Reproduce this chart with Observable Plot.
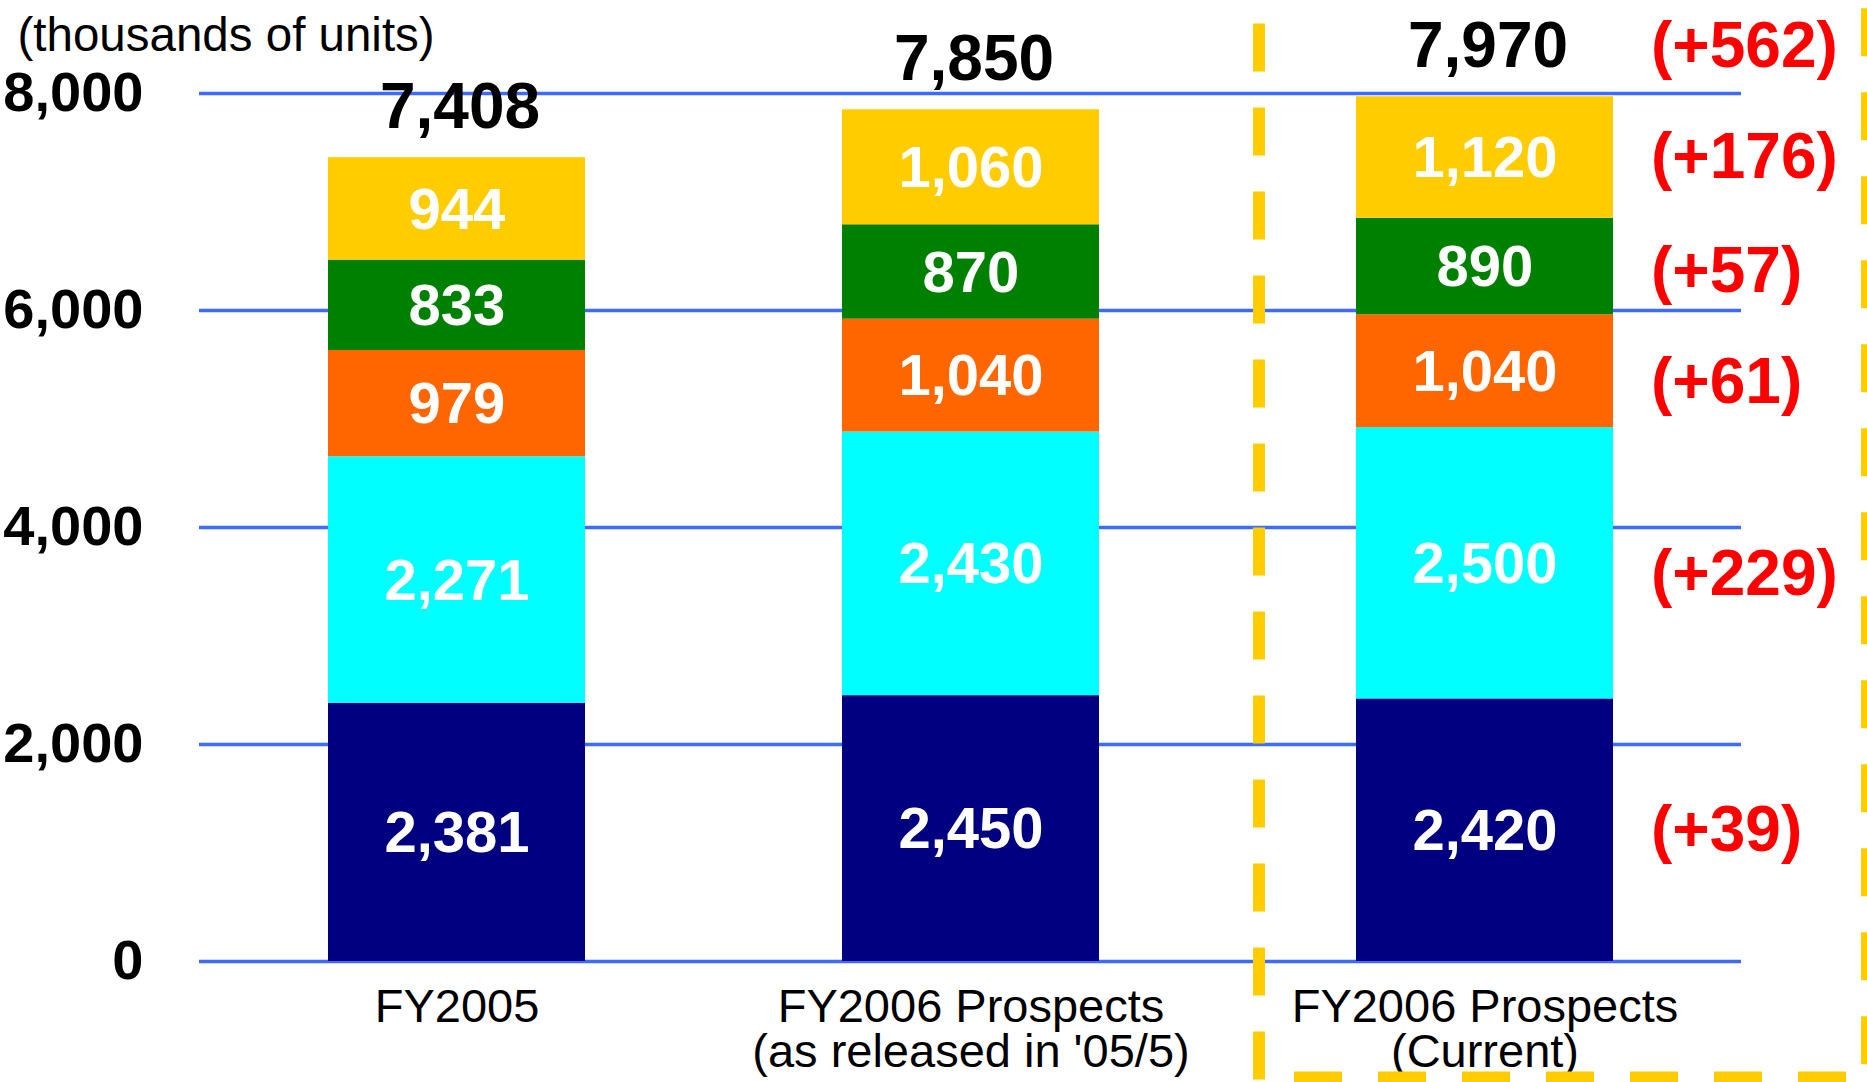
<!DOCTYPE html>
<html>
<head>
<meta charset="utf-8">
<script src="https://cdn.jsdelivr.net/npm/d3@7"></script>
<script src="https://cdn.jsdelivr.net/npm/@observablehq/plot@0.6"></script>
<style>
  html, body { margin: 0; padding: 0; background: #ffffff; }
  #chart svg { display: block; }
</style>
</head>
<body>
<div id="chart"></div>
<script>
// ---- data ----
const categories = ["FY2005", "FY2006 Prospects\n(as released in '05/5)", "FY2006 Prospects\n(Current)"];
const seriesNames = ["Series 1", "Series 2", "Series 3", "Series 4", "Series 5"]; // bottom → top
const seriesColors = ["#000080", "#00ffff", "#ff6600", "#008000", "#ffcc00"];
const fy2005 = [2381, 2271, 979, 833, 944];
const fy2006Initial = [2450, 2430, 1040, 870, 1060];
const fy2006Current = [2420, 2500, 1040, 890, 1120];
const totals = [7408, 7850, 7970];
const changes = [39, 229, 61, 57, 176];   // current vs FY2005, per series
const totalChange = 562;
const yTicks = [0, 2000, 4000, 6000, 8000];
const unitLabel = "(thousands of units)";

// label placement tweaks (style only, pixels)
const changeLabelNudge = [0, 11, 11, 5, 0];

// ---- tables built from the arrays ----
const valuesByCat = [fy2005, fy2006Initial, fy2006Current];
const rows = [];
categories.forEach((cat, ci) => {
  let acc = 0;
  valuesByCat[ci].forEach((v, si) => {
    rows.push({cat, si, series: seriesNames[si], value: v, y1: acc, y2: acc + v, change: ci === 2 ? changes[si] : null});
    acc += v;
  });
});
const totalRows = categories.map((cat, i) => ({cat, total: totals[i]}));
const currentRows = rows.filter(d => d.cat === categories[2]);
const fmt = d3.format(",");
const font = "'Liberation Sans', Arial, Helvetica, sans-serif";
const gold = "#ffcc00";

const chart = Plot.plot({
  width: 1867,
  height: 1082,
  marginLeft: 199,
  marginRight: 126,
  marginTop: 93,
  marginBottom: 121,
  style: {fontFamily: font, background: "#ffffff", overflow: "visible"},
  x: {domain: categories, paddingInner: 0.5, paddingOuter: 0.25, axis: null},
  y: {domain: [0, 8000], axis: null},
  color: {domain: seriesNames, range: seriesColors},
  marks: [
    // gridlines
    Plot.ruleY(yTicks, {stroke: "#3d6aff", strokeWidth: 3.5}),
    // y tick labels
    Plot.text(yTicks, {y: d => d, frameAnchor: "left", textAnchor: "end", dx: -56,
      text: d => fmt(d), fontSize: 56, fontWeight: "bold", fill: "#000"}),
    // stacked bars
    Plot.barY(rows, {x: "cat", y1: "y1", y2: "y2", fill: "series"}),
    // segment values
    Plot.text(rows, {x: "cat", y: d => (d.y1 + d.y2) / 2, text: d => fmt(d.value),
      dy: 1, fill: "#ffffff", fontSize: 58, fontWeight: "bold"}),
    // totals
    Plot.text(totalRows, {x: "cat", y: "total", text: d => fmt(d.total), lineAnchor: "bottom",
      dy: -30, dx: 3, fill: "#000", fontSize: 64, fontWeight: "bold"}),
    // change labels for the current prospects (one text mark per series to allow a nudge)
    ...currentRows.map(r => Plot.text([r], {x: "cat", y: d => (d.y1 + d.y2) / 2, text: d => `(+${d.change})`,
      textAnchor: "start", dx: 166, dy: changeLabelNudge[r.si], fill: "#ff0000", fontSize: 64, fontWeight: "bold"})),
    Plot.text([totalRows[2]], {x: "cat", y: "total", text: () => `(+${totalChange})`,
      textAnchor: "start", lineAnchor: "bottom", dx: 166, dy: -30, fill: "#ff0000", fontSize: 64, fontWeight: "bold"}),
    // category labels
    Plot.text(categories, {x: d => d, frameAnchor: "bottom", lineAnchor: "top", dy: 28,
      text: d => d, fontSize: 47, lineHeight: 0.96, fill: "#000"}),
    // unit label
    Plot.text([unitLabel], {frameAnchor: "top-left", textAnchor: "start", lineAnchor: "bottom",
      dx: -182, dy: -43, text: d => d, fontSize: 47.5, fill: "#000"}),
    // dashed highlight box around the current prospects
    Plot.ruleX([categories[2]], {x: d => d, y1: 8640, y2: -1120, dx: -226,
      stroke: gold, strokeWidth: 12, strokeDasharray: "48,36"}),
    Plot.ruleX([categories[2]], {x: d => d, y1: 8780, y2: -1120, dx: 382,
      stroke: gold, strokeWidth: 12, strokeDasharray: "48,36"}),
    Plot.ruleY([-1070], {insetLeft: 1095, insetRight: -126,
      stroke: gold, strokeWidth: 12, strokeDasharray: "48,36"})
  ]
});

document.getElementById("chart").appendChild(chart);
</script>
</body>
</html>
